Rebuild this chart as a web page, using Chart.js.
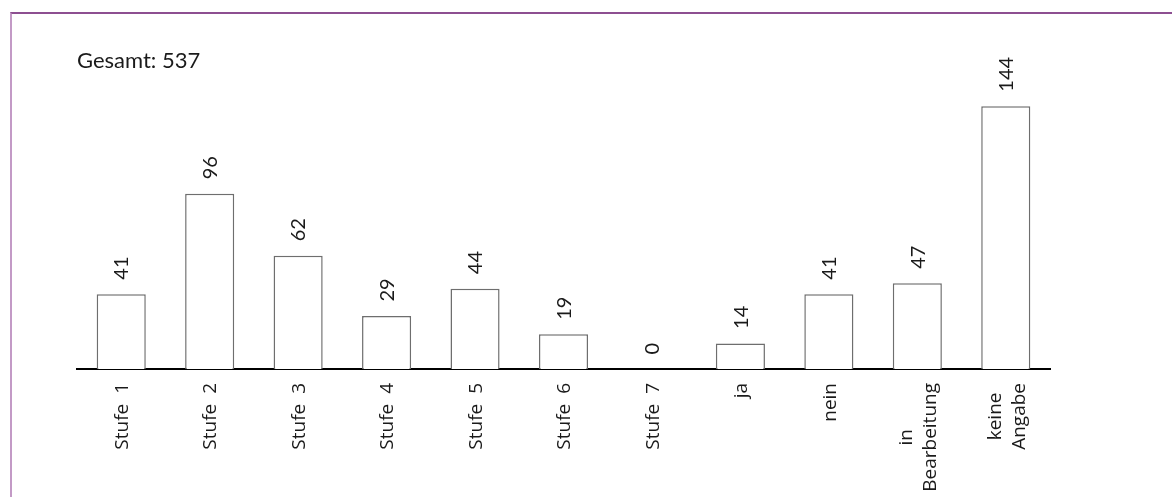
<!DOCTYPE html>
<html>
<head>
<meta charset="utf-8">
<script src="https://cdn.jsdelivr.net/npm/chart.js@4/dist/chart.umd.min.js"></script>
<style>
  html, body { margin: 0; padding: 0; background: #fff; }
  #wrap { position: relative; width: 1172px; height: 497px; overflow: hidden; }
  #frame { position: absolute; left: 10px; top: 12px; width: 1300px; height: 600px;
           border-left: 2px solid #c39ac6; border-top: 2px solid #8d4f91; pointer-events: none; }
  canvas { position: absolute; left: 0; top: 0; }
</style>
</head>
<body>
<div id="wrap">
  <canvas id="c" width="1172" height="497"></canvas>
  <div id="frame"></div>
</div>
<script>
const categories = [
  ["Stufe  1"], ["Stufe  2"], ["Stufe  3"], ["Stufe  4"], ["Stufe  5"],
  ["Stufe  6"], ["Stufe  7"], ["ja"], ["nein"], ["in", "Bearbeitung"], ["keine", "Angabe"]
];
const values = [41, 96, 62, 29, 44, 19, 0, 14, 41, 47, 144];
const titlePrefix = "Gesamt: ";

const total = values.reduce((a, b) => a + b, 0);

const AXIS_Y_HEIGHT = 128;

const labelsPlugin = {
  id: 'customLabels',
  afterDatasetsDraw(chart) {
    const ctx = chart.ctx;
    const meta = chart.getDatasetMeta(0);
    const xScale = chart.scales.x;
    const area = chart.chartArea;
    ctx.save();
    ctx.fillStyle = '#1a1a1a';

    // value labels above bars (rotated)
    ctx.font = '20px Lato';
    ctx.textAlign = 'left';
    ctx.textBaseline = 'alphabetic';
    meta.data.forEach((bar, i) => {
      ctx.save();
      ctx.translate(bar.x, bar.y - 14.5);
      ctx.rotate(-Math.PI / 2);
      ctx.fillText(String(values[i]), 0, 7.2);
      ctx.restore();
    });

    // category labels below axis (rotated, top-anchored, lines centered)
    ctx.font = '19px "Open Sans"';
    ctx.textAlign = 'center';
    const top = area.bottom + 14;
    const lh = 24;
    categories.forEach((lines, i) => {
      const x = xScale.getPixelForTick(i);
      const w = Math.max(...lines.map(l => ctx.measureText(l).width));
      const n = lines.length;
      lines.forEach((line, j) => {
        const off = (j - (n - 1) / 2) * lh;
        ctx.save();
        ctx.translate(x + off, top + w / 2);
        ctx.rotate(-Math.PI / 2);
        ctx.fillText(line, 0, 6.8);
        ctx.restore();
      });
    });

    // total text
    ctx.font = '22px Lato';
    ctx.textAlign = 'left';
    ctx.fillText(titlePrefix + total, area.left, 68);
    ctx.restore();
  }
};

new Chart(document.getElementById('c'), {
  type: 'bar',
  data: {
    labels: categories,
    datasets: [{
      data: values,
      backgroundColor: '#ffffff',
      borderColor: '#6e6e6e',
      borderWidth: 1.5,
      categoryPercentage: 1.0,
      barPercentage: 0.555
    }]
  },
  options: {
    responsive: false,
    animation: false,
    devicePixelRatio: 1,
    layout: { padding: { left: 77, right: 122, top: 77, bottom: 0 } },
    plugins: { legend: { display: false }, tooltip: { enabled: false }, title: { display: false } },
    scales: {
      x: {
        grid: { display: false, drawTicks: false },
        border: { display: true, color: '#000', width: 2 },
        ticks: { display: false },
        afterFit(scale) { scale.height = AXIS_Y_HEIGHT; }
      },
      y: {
        display: false,
        min: 0,
        max: 160
      }
    }
  },
  plugins: [labelsPlugin]
});
</script>
</body>
</html>
